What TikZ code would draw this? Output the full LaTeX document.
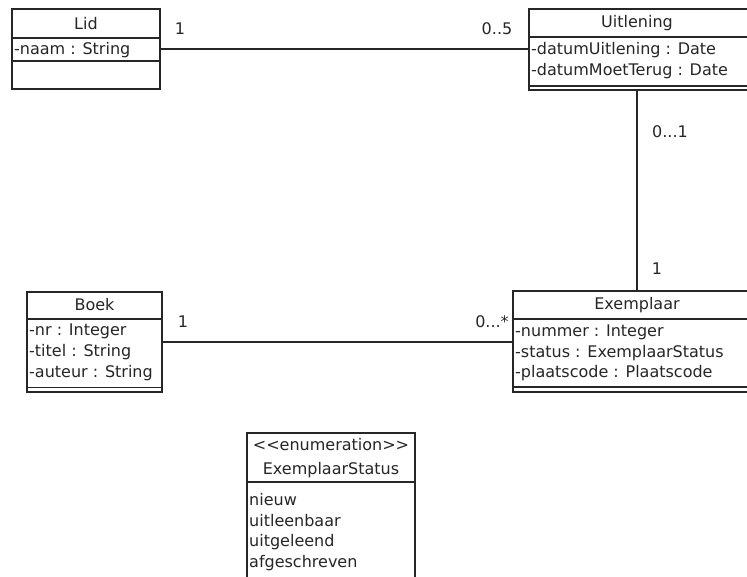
\documentclass[tikz,border=0pt]{standalone}
\usepackage{fontspec}
\setmainfont{DejaVu Sans}
\usetikzlibrary{fit}
\tikzset{
  classbox/.style={draw=black!85, line width=1.2pt, inner sep=0pt, fill=white},
  sep/.style={draw=black!85, line width=1.2pt},
  assoc/.style={draw=black!85, line width=1.2pt},
  title/.style={inner sep=0pt, font=\fontsize{16}{18}\selectfont, text=black!85},
  attr/.style={inner sep=0pt, anchor=west, font=\fontsize{16}{18}\selectfont, text=black!85},
  mult/.style={inner sep=0pt, font=\fontsize{16}{18}\selectfont, text=black!85}
}
\begin{document}
\begin{tikzpicture}[x=1pt,y=-1pt]
\path[use as bounding box] (0,0) rectangle (747,577);
\clip (0,0) rectangle (747,577);

% Lid
\node[classbox, fit={(12,9) (160,89)}] (lid) {};
\draw[sep] (12,38) -- (160,38);
\draw[sep] (12,61) -- (160,61);
\node[title] (lidT) at (86,24) {Lid};
\node[attr] (lidA) at (14,50) {-naam : String};

% Uitlening
\node[classbox, fit={(529,9) (749,90)}] (uit) {};
\draw[sep] (529,37) -- (749,37);
\draw[sep] (529,86) -- (749,86);
\node[title] (uitT) at (637,23) {Uitlening};
\node[attr] (uitA) at (531,50) {-datumUitlening : Date};
\node[attr] (uitB) at (531,71) {-datumMoetTerug : Date};

% Boek
\node[classbox, fit={(27,292) (162,392)}] (boek) {};
\draw[sep] (27,319) -- (162,319);
\draw[sep] (27,387.5) -- (162,387.5);
\node[title] (boekT) at (94.5,305) {Boek};
\node[attr] (boekA) at (29,331) {-nr : Integer};
\node[attr] (boekB) at (29,352) {-titel : String};
\node[attr] (boekC) at (29,373) {-auteur : String};

% Exemplaar
\node[classbox, fit={(513,291) (761,392)}] (exem) {};
\draw[sep] (513,319) -- (761,319);
\draw[sep] (513,387) -- (761,387);
\node[title] (exemT) at (637,305) {Exemplaar};
\node[attr] (exemA) at (515,332) {-nummer : Integer};
\node[attr] (exemB) at (515,353) {-status : ExemplaarStatus};
\node[attr] (exemC) at (515,373) {-plaatscode : Plaatscode};

% ExemplaarStatus enumeration
\node[classbox, fit={(247,433) (415,585)}] (enum) {};
\draw[sep] (247,482) -- (415,482);
\node[title] (enumS) at (331,445) {<{}<enumeration>{}>};
\node[title] (enumT) at (331,470) {ExemplaarStatus};
\node[attr] (enumA) at (249,500) {nieuw};
\node[attr] (enumB) at (249,521) {uitleenbaar};
\node[attr] (enumC) at (249,542) {uitgeleend};
\node[attr] (enumD) at (249,563) {afgeschreven};

% Associations
\draw[assoc] (lid.east) -- (lid.east -| uit.west);
\draw[assoc] (uit.south -| exem.north) -- (exem.north);
\draw[assoc] (boek.east) -- (boek.east -| exem.west);

% Multiplicities
\node[mult] (m1) at (180,29) {1};
\node[mult] (m2) at (497,29) {0..5};
\node[mult] (m3) at (670,132) {0...1};
\node[mult] (m4) at (657,269) {1};
\node[mult] (m5) at (183,322) {1};
\node[mult] (m6) at (492,322) {0...*};
\end{tikzpicture}
\end{document}
